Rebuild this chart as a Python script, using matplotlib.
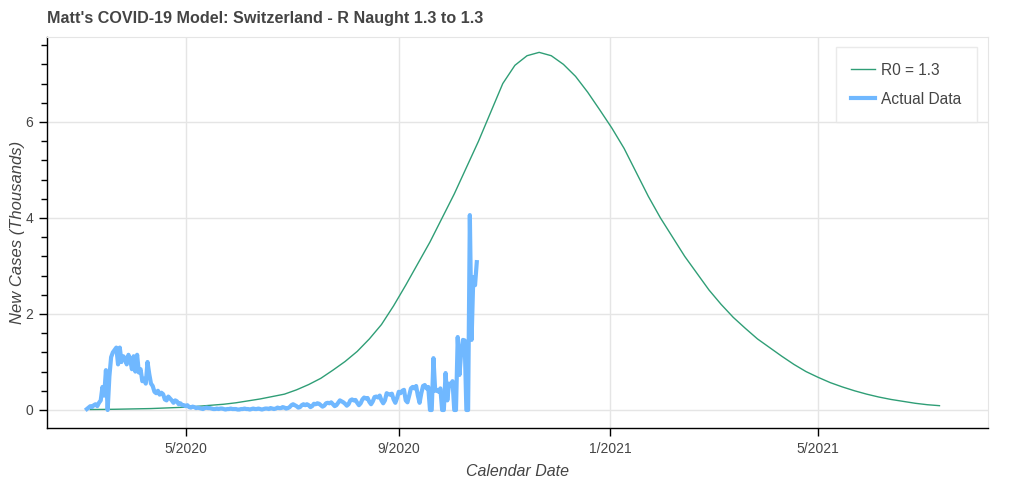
import numpy as np
import pandas as pd
import matplotlib
matplotlib.use("Agg")
import matplotlib.pyplot as plt
import matplotlib.dates as mdates
from matplotlib.ticker import MultipleLocator

plt.rcParams["font.family"] = ["Liberation Sans", "DejaVu Sans"]

# model curve, one value per week (thousands of new cases)
model_start = "2020-03-07"
model_values = [
    0.01, 0.012, 0.015, 0.02, 0.025, 0.03, 0.04, 0.05, 0.06, 0.08,
    0.10, 0.12, 0.15, 0.19, 0.23, 0.28, 0.33, 0.42, 0.53, 0.66,
    0.83, 1.01, 1.22, 1.48, 1.78, 2.17, 2.60, 3.05, 3.50, 4.00,
    4.50, 5.05, 5.60, 6.20, 6.80, 7.18, 7.38, 7.45, 7.38, 7.20,
    6.95, 6.62, 6.25, 5.87, 5.45, 4.95, 4.45, 4.00, 3.60, 3.20,
    2.85, 2.50, 2.20, 1.93, 1.70, 1.48, 1.30, 1.12, 0.95, 0.80,
    0.68, 0.57, 0.48, 0.40, 0.33, 0.27, 0.22, 0.18, 0.14, 0.11,
    0.09,
]

# reported daily cases (thousands)
actual_start = "2020-03-05"
actual_values = [
    0.02, 0.05, 0.08, 0.06, 0.10, 0.12, 0.08,
    0.15, 0.20, 0.48, 0.30, 0.83, 0.00, 0.70,
    1.10, 1.20, 1.25, 1.30, 0.95, 1.30, 1.00,
    1.12, 1.08, 0.95, 1.15, 1.05, 0.85, 1.12,
    0.80, 1.15, 0.78, 0.85, 0.60, 0.65, 0.55,
    1.00, 0.75, 0.55, 0.50, 0.38, 0.35, 0.40,
    0.32, 0.36, 0.33, 0.22, 0.20, 0.28, 0.24,
    0.20, 0.15, 0.20, 0.18, 0.12, 0.14, 0.10,
    0.10,
    0.08, 0.10, 0.06, 0.05, 0.07, 0.06, 0.04,
    0.05, 0.04, 0.03, 0.02, 0.04, 0.05, 0.04,
    0.04, 0.03, 0.02, 0.02, 0.03, 0.02, 0.03,
    0.03, 0.02, 0.01, 0.02, 0.02, 0.03, 0.02,
    0.02, 0.02, 0.01, 0.01, 0.02, 0.02, 0.03,
    0.02, 0.02, 0.01, 0.02, 0.03, 0.02, 0.02,
    0.03, 0.02, 0.01, 0.02, 0.03, 0.03, 0.02,
    0.04, 0.03, 0.02, 0.03, 0.05, 0.04, 0.04,
    0.06, 0.05, 0.03, 0.04, 0.06, 0.10, 0.12,
    0.10, 0.08, 0.05, 0.06, 0.10, 0.12, 0.10,
    0.12, 0.10, 0.06, 0.08, 0.13, 0.12, 0.14,
    0.13, 0.10, 0.07, 0.09, 0.14, 0.15, 0.14,
    0.16, 0.12, 0.08, 0.10, 0.15, 0.20, 0.18,
    0.16, 0.13, 0.09, 0.12, 0.20, 0.22, 0.20,
    0.21, 0.15, 0.10, 0.14, 0.22, 0.26, 0.24,
    0.25, 0.17, 0.12, 0.18, 0.27, 0.28, 0.26,
    0.30, 0.20, 0.14, 0.20, 0.35, 0.33, 0.32,
    0.34, 0.22, 0.15, 0.25, 0.38, 0.35, 0.40,
    0.42, 0.20, 0.16, 0.30, 0.45, 0.48, 0.45,
    0.50, 0.30, 0.15, 0.35, 0.50, 0.52, 0.45,
    0.48, 0.00, 0.00, 1.08, 0.40, 0.42, 0.38,
    0.45, 0.00, 0.00, 0.77, 0.20, 0.55, 0.50,
    0.60, 0.00, 0.00, 1.52, 0.73, 1.20, 1.46,
    1.45, 0.00, 0.00, 4.06, 1.46, 2.77, 2.60,
    3.08,
]

model_dates = pd.date_range(model_start, periods=len(model_values), freq="7D")
actual_dates = pd.date_range(actual_start, periods=len(actual_values), freq="D")

text_grey = "#444444"
grid_grey = "#e5e5e5"

fig = plt.figure(figsize=(10.24, 4.82), dpi=100)
ax = fig.add_axes([47 / 1024, 1 - 428 / 482, 941 / 1024, 391 / 482])

ax.plot(model_dates, model_values, color="#2f9e76", lw=1.0, label="R0 = 1.3", zorder=3)
ax.plot(actual_dates, actual_values, color="#70b8ff", lw=3.0, label="Actual Data",
        solid_joinstyle="round", zorder=4)

ax.set_xlim(pd.Timestamp("2020-02-11"), pd.Timestamp("2021-08-07"))
ax.set_ylim(-0.375, 7.77)

ax.xaxis.set_major_locator(mdates.MonthLocator(bymonth=[1, 5, 9]))
ax.xaxis.set_major_formatter(mdates.DateFormatter("%-m/%Y"))
ax.yaxis.set_major_locator(MultipleLocator(2))
ax.yaxis.set_minor_locator(MultipleLocator(0.4))

ax.grid(True, which="major", color=grid_grey, lw=1.0, zorder=0)
ax.set_axisbelow(True)

for side in ["top", "right"]:
    ax.spines[side].set_color(grid_grey)
for side in ["left", "bottom"]:
    ax.spines[side].set_color("black")
    ax.spines[side].set_linewidth(1.0)

ax.tick_params(axis="both", which="major", length=6, width=1, direction="out",
               colors="black", labelcolor=text_grey, labelsize=10, pad=4)
ax.tick_params(axis="y", which="minor", length=4, width=1, direction="out")
ax.tick_params(axis="x", which="minor", length=0)

ax.set_xlabel("Calendar Date", fontsize=11.5, style="italic", color=text_grey, labelpad=6)
ax.set_ylabel("New Cases (Thousands)", fontsize=12, style="italic", color=text_grey, labelpad=0)

fig.text(47 / 1024, 1 - 19 / 482, "Matt's COVID-19 Model: Switzerland - R Naught 1.3 to 1.3",
         fontsize=11.6, fontweight="bold", color=text_grey, va="center", ha="left")

leg = ax.legend(loc="upper right", bbox_to_anchor=(0.988, 0.974), borderaxespad=0,
                fontsize=11.2, frameon=True, fancybox=False, handlelength=1.5,
                borderpad=1.0, labelspacing=0.9, handletextpad=0.4)
leg.get_frame().set_edgecolor(grid_grey)
leg.get_frame().set_linewidth(1.0)
for t in leg.get_texts():
    t.set_color(text_grey)

fig.savefig("out.png", dpi=100)
